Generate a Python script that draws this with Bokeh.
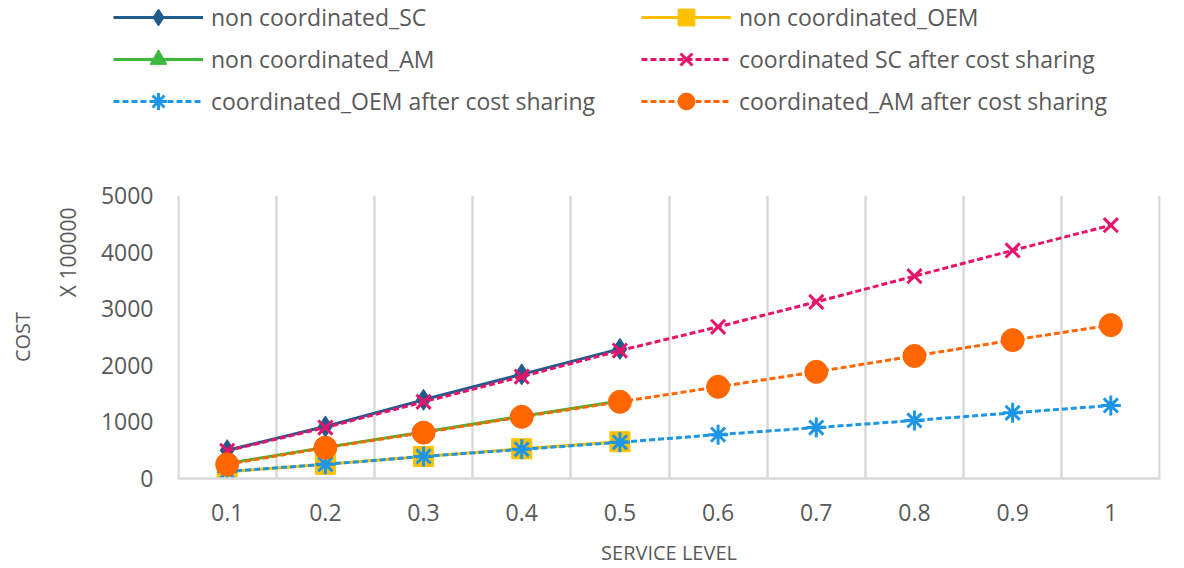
from bokeh.plotting import figure
from bokeh.models import (Range1d, FixedTicker, Legend, LegendItem, Title)
from bokeh.embed import file_html
from bokeh.resources import INLINE

# ---------------- data ----------------
levels = [0.1, 0.2, 0.3, 0.4, 0.5, 0.6, 0.7, 0.8, 0.9, 1.0]
tick_labels = ["0.1", "0.2", "0.3", "0.4", "0.5", "0.6", "0.7", "0.8", "0.9", "1"]
y_ticks = [0, 1000, 2000, 3000, 4000, 5000]

levels_nc = [0.1, 0.2, 0.3, 0.4, 0.5]
nc_SC = [500, 920, 1390, 1840, 2290]
nc_OEM = [120, 250, 390, 525, 650]
nc_AM = [265, 550, 820, 1100, 1370]

c_SC = [490, 900, 1355, 1800, 2260, 2680, 3120, 3575, 4030, 4475]
c_OEM = [125, 250, 390, 515, 640, 775, 900, 1025, 1160, 1290]
c_AM = [250, 545, 810, 1090, 1355, 1620, 1885, 2165, 2445, 2710]

TEXT = "#595959"
FONT = "Open Sans"
GRID = "#d9d9d9"

series = [
    ("non coordinated_SC", levels_nc, nc_SC, "#1F5C8C", "diamond", 21, None),
    ("non coordinated_OEM", levels_nc, nc_OEM, "#FFC000", "square", 20, None),
    ("non coordinated_AM", levels_nc, nc_AM, "#3DB83D", "triangle", 17, None),
    ("coordinated SC after cost sharing", levels, c_SC, "#E6136B", "x", 20, "6 3"),
    ("coordinated_OEM after cost sharing", levels, c_OEM, "#1E96E6", "asterisk", 20, "6 3"),
    ("coordinated_AM after cost sharing", levels, c_AM, "#FF6600", "circle", 23, "6 3"),
]

LEG_H = 140

half = (levels[1] - levels[0]) / 2
grid_pos = [round(lv - half, 3) for lv in levels] + [round(levels[-1] + half, 3)]
eps = 0.0006  # keeps the outer boundary grid lines inside the frame

# ---------------- main chart ----------------
p = figure(width=1184, height=568 - LEG_H, output_backend="svg", toolbar_location=None,
           x_range=Range1d(grid_pos[0] - eps, grid_pos[-1] + eps),
           y_range=Range1d(0, 5000),
           min_border_left=177, min_border_right=24, min_border_top=195 - LEG_H,
           min_border_bottom=89)
p.outline_line_color = None
p.background_fill_color = "white"
p.border_fill_color = "white"

p.xaxis.ticker = FixedTicker(ticks=levels)
p.xaxis.major_label_overrides = {lv: lb for lv, lb in zip(levels, tick_labels)}
p.xaxis.major_tick_line_color = None
p.xaxis.minor_tick_line_color = None
p.xaxis.major_tick_out = 0
p.xaxis.axis_line_color = GRID
p.xaxis.axis_line_width = 2.5
p.xaxis.major_label_text_font = FONT
p.xaxis.major_label_text_font_size = "23px"
p.xaxis.major_label_text_color = TEXT
p.xaxis.major_label_standoff = 25
p.xaxis.axis_label = "SERVICE LEVEL"
p.xaxis.axis_label_text_font = FONT
p.xaxis.axis_label_text_font_size = "20px"
p.xaxis.axis_label_text_font_style = "normal"
p.xaxis.axis_label_text_color = TEXT
p.xaxis.axis_label_standoff = 15

p.yaxis.ticker = FixedTicker(ticks=y_ticks)
p.yaxis.major_tick_line_color = None
p.yaxis.minor_tick_line_color = None
p.yaxis.major_tick_out = 0
p.yaxis.axis_line_color = None
p.yaxis.major_label_text_font = FONT
p.yaxis.major_label_text_font_size = "23px"
p.yaxis.major_label_text_color = TEXT
p.yaxis.major_label_standoff = 24

p.add_layout(Title(text="X 100000", align="right", offset=12, standoff=32,
                   text_font=FONT, text_font_size="21px", text_font_style="normal",
                   text_color=TEXT), "left")
p.add_layout(Title(text="COST", align="center", standoff=0,
                   text_font=FONT, text_font_size="20px", text_font_style="normal",
                   text_color=TEXT), "left")

p.ygrid.grid_line_color = None
p.xgrid.ticker = FixedTicker(ticks=grid_pos)
p.xgrid.grid_line_color = GRID
p.xgrid.grid_line_width = 2.5

# ---------------- legend strip (separate root, full-width frame) ----------------
lg = figure(width=1184, height=LEG_H, output_backend="svg", toolbar_location=None,
            x_axis_location=None, y_axis_location=None,
            x_range=Range1d(0.05, 1.05), y_range=Range1d(0, 5000),
            min_border=0)
lg.outline_line_color = None
lg.grid.visible = False
lg.background_fill_color = "white"
lg.border_fill_color = "white"

items = []
for name, xs, ys, col, mk, sz, dash in series:
    kw = dict(line_color=col, line_width=3)
    if dash:
        kw["line_dash"] = dash
    mkw = dict(marker=mk, size=sz, fill_color=col, line_color=col,
               line_width=3 if mk in ("x", "asterisk") else 1)
    p.line(xs, ys, **kw)
    p.scatter(xs, ys, **mkw)
    # hidden twins in the legend strip, used only to draw the legend samples
    lr = lg.line(xs, ys, visible=False, **kw)
    sr = lg.scatter(xs, ys, visible=False, **mkw)
    items.append(LegendItem(label=name, renderers=[lr, sr]))

legend = Legend(items=items, location=(113, 18), orientation="horizontal",
                ncols=2,
                glyph_width=90, glyph_height=42, label_height=42, label_width=430,
                spacing=-1, padding=0, margin=0, border_line_color=None,
                background_fill_alpha=0, inactive_fill_alpha=0, label_standoff=8,
                label_text_font=FONT, label_text_font_size="23px",
                label_text_color=TEXT)
lg.add_layout(legend)

open("out.html", "w").write(file_html([lg, p], INLINE))
